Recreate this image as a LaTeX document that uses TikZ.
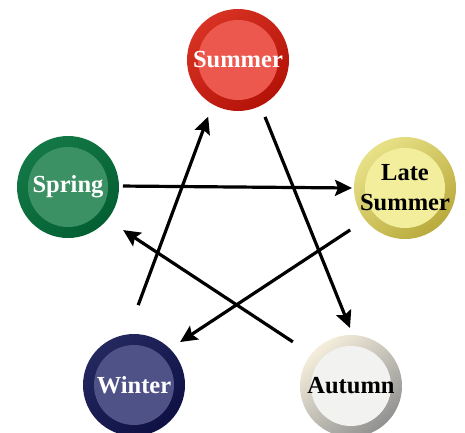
\documentclass[tikz,border=0pt]{standalone}
\usepackage{fontspec}
\setmainfont{Liberation Serif}
\usetikzlibrary{arrows.meta,calc}
\definecolor{suO}{RGB}{180,18,8}
\definecolor{suL}{RGB}{215,50,35}
\definecolor{suI}{RGB}{236,88,78}
\definecolor{lsO}{RGB}{185,170,60}
\definecolor{lsL}{RGB}{232,225,135}
\definecolor{lsI}{RGB}{242,238,155}
\definecolor{auO}{RGB}{145,145,145}
\definecolor{auL}{RGB}{245,238,220}
\definecolor{auI}{RGB}{242,242,240}
\definecolor{wiO}{RGB}{15,17,68}
\definecolor{wiL}{RGB}{35,40,95}
\definecolor{wiI}{RGB}{78,82,135}
\definecolor{spO}{RGB}{3,95,50}
\definecolor{spL}{RGB}{20,120,70}
\definecolor{spI}{RGB}{60,145,100}
\tikzset{
  season/.style n args={4}{circle, minimum size=102pt, inner sep=0pt,
    shading=axis, top color=#2, bottom color=#1, shading angle=40,
    path picture={\fill[#3] (path picture bounding box.center) circle (40pt);},
    font=\fontsize{24.5}{30}\selectfont\bfseries, text=#4, align=center},
  arr/.style={line width=3.2pt, -{Stealth[length=17pt,width=16pt,inset=3pt]}}
}
\begin{document}
\begin{tikzpicture}[x=1pt,y=1pt]
\useasboundingbox (0,0) rectangle (465,432);
\clip (0,0) rectangle (465,432);
\node[season={suO}{suL}{suI}{white}] (su) at (238,372) {Summer};
\node[season={lsO}{lsL}{lsI}{black}] (ls) at (405,244) {Late\\Summer};
\node[season={auO}{auL}{auI}{black}] (au) at (351,46) {Autumn};
\node[season={wiO}{wiL}{wiI}{white}] (wi) at (134,47) {Winter};
\node[season={spO}{spL}{spI}{white}] (sp) at (68,245) {Spring};
\draw[arr] ($(sp)+(1:55)$) -- ($(ls)+(180:53)$);
\draw[arr] ($(su)+(-64.6:63)$) -- ($(au)+(91:58)$);
\draw[arr] ($(ls)+(217.4:69)$) -- ($(wi)+(43:63)$);
\draw[arr] ($(au)+(142.8:73)$) -- ($(sp)+(-38:70)$);
\draw[arr] ($(wi)+(87:80)$) -- ($(su)+(242.2:64)$);
\end{tikzpicture}
\end{document}
